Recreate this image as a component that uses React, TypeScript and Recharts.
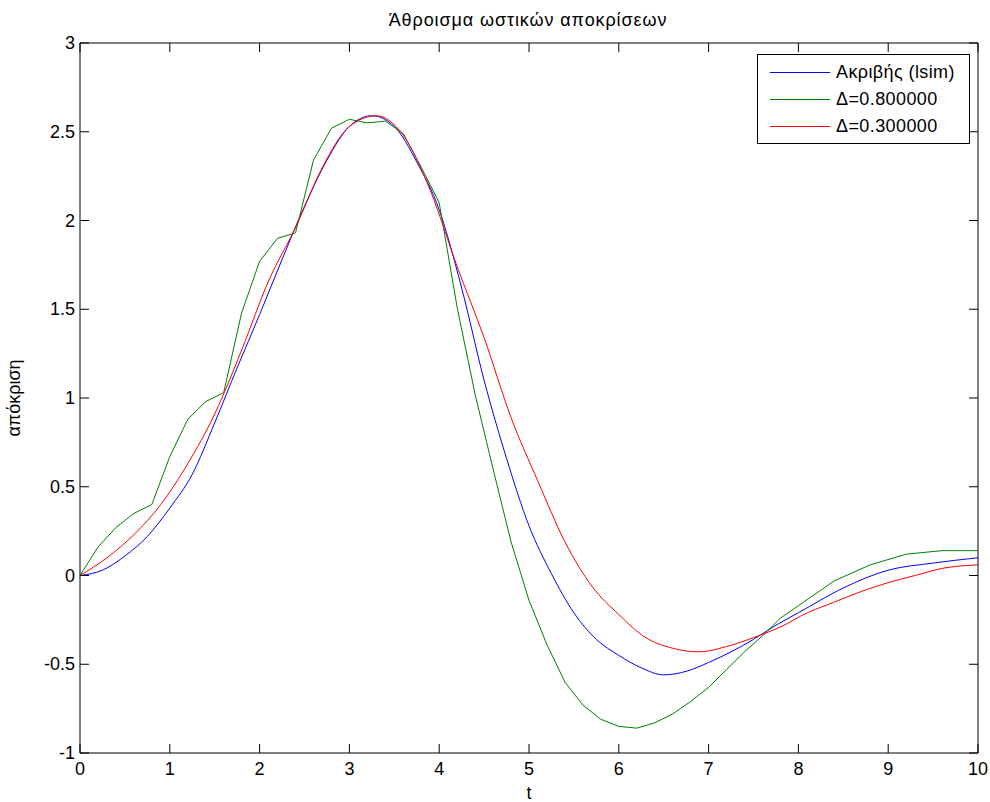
import React from 'react';
import { LineChart, Line, XAxis, YAxis, ReferenceLine } from 'recharts';

// exact response (lsim)
const exactT = [0, 0.25, 0.5, 0.75, 1.0, 1.25, 1.5, 1.75, 2.0, 2.25, 2.5, 2.75, 3.0, 3.25, 3.5, 3.75, 4.0, 4.25, 4.5, 4.75, 5.0, 5.25, 5.5, 5.75, 6.0, 6.25, 6.5, 6.75, 7.0, 7.25, 7.5, 7.75, 8.0, 8.5, 9.0, 9.5, 10];
const exactV = [0, 0.03, 0.11, 0.22, 0.38, 0.57, 0.86, 1.17, 1.47, 1.78, 2.08, 2.34, 2.53, 2.59, 2.53, 2.33, 2.06, 1.62, 1.10, 0.66, 0.28, 0.01, -0.21, -0.36, -0.45, -0.52, -0.56, -0.54, -0.49, -0.43, -0.36, -0.28, -0.21, -0.07, 0.03, 0.07, 0.10];

// delta = 0.8
const d08T = [0, 0.2, 0.4, 0.6, 0.8, 1.0, 1.2, 1.4, 1.6, 1.8, 2.0, 2.2, 2.4, 2.6, 2.8, 3.0, 3.2, 3.4, 3.6, 3.8, 4.0, 4.2, 4.4, 4.6, 4.8, 5.0, 5.2, 5.4, 5.6, 5.8, 6.0, 6.2, 6.4, 6.6, 6.8, 7.0, 7.2, 7.4, 7.6, 7.8, 8.0, 8.4, 8.8, 9.2, 9.6, 10];
const d08V = [0, 0.16, 0.27, 0.35, 0.40, 0.67, 0.88, 0.98, 1.03, 1.48, 1.77, 1.90, 1.93, 2.34, 2.52, 2.57, 2.55, 2.56, 2.49, 2.30, 2.10, 1.51, 1.02, 0.60, 0.19, -0.14, -0.39, -0.60, -0.73, -0.81, -0.85, -0.86, -0.83, -0.78, -0.71, -0.63, -0.53, -0.43, -0.34, -0.24, -0.17, -0.03, 0.06, 0.12, 0.14, 0.14];

// delta = 0.3
const d03T = [0, 0.3, 0.6, 0.9, 1.2, 1.5, 1.8, 2.1, 2.4, 2.7, 3.0, 3.3, 3.6, 3.9, 4.2, 4.5, 4.8, 5.1, 5.4, 5.7, 6.0, 6.3, 6.6, 6.9, 7.2, 7.5, 7.8, 8.1, 8.4, 8.7, 9.0, 9.3, 9.6, 10];
const d03V = [0, 0.10, 0.23, 0.40, 0.63, 0.91, 1.27, 1.66, 1.96, 2.30, 2.53, 2.59, 2.48, 2.17, 1.74, 1.34, 0.89, 0.53, 0.19, -0.06, -0.22, -0.35, -0.41, -0.43, -0.40, -0.35, -0.29, -0.21, -0.15, -0.09, -0.04, 0.00, 0.04, 0.06];

const xTicks = [0, 1, 2, 3, 4, 5, 6, 7, 8, 9, 10];
const yTicks = [-1, -0.5, 0, 0.5, 1, 1.5, 2, 2.5, 3];

const seriesNames = ['Ακριβής (lsim)', 'Δ=0.800000', 'Δ=0.300000'];
const seriesColors = ['#0000ff', '#008000', '#ff0000'];
const seriesCurve = ['monotone', 'linear', 'monotone'];

const toRows = (t: number[], v: number[]) => t.map((x, i) => ({ t: x, v: v[i] }));

const FONT = '"Liberation Sans", Arial, sans-serif';
const PLOT_W = 898;
const PLOT_H = 710;
const TICK = 9;

const BottomTick = (props: any) => {
  const { x, y, payload } = props;
  return (
    <g>
      <line x1={x} x2={x} y1={y} y2={y - TICK} stroke="#000" />
      <line x1={x} x2={x} y1={y - PLOT_H} y2={y - PLOT_H + TICK} stroke="#000" />
      <text x={x} y={y + 22} textAnchor="middle" fontSize={18} fontFamily={FONT} fill="#000">
        {payload.value}
      </text>
    </g>
  );
};

const LeftTick = (props: any) => {
  const { x, y, payload } = props;
  return (
    <g>
      <line x1={x} x2={x + TICK} y1={y} y2={y} stroke="#000" />
      <line x1={x + PLOT_W} x2={x + PLOT_W - TICK} y1={y} y2={y} stroke="#000" />
      <text x={x - 5} y={y + 6} textAnchor="end" fontSize={18} fontFamily={FONT} fill="#000">
        {payload.value}
      </text>
    </g>
  );
};

const LegendBox = () => (
  <div
    style={{
      position: 'absolute',
      left: 757,
      top: 54,
      width: 213,
      height: 90,
      border: '1px solid #000',
      background: '#fff',
      fontFamily: FONT,
      fontSize: 18,
      letterSpacing: 0.4,
      boxSizing: 'border-box',
    }}
  >
    {seriesNames.map((name, i) => (
      <div key={name} style={{ display: 'flex', alignItems: 'center', height: 27, marginTop: i === 0 ? 4 : 0 }}>
        <div style={{ width: 60, height: 1, background: seriesColors[i], marginLeft: 12, marginRight: 6 }} />
        <span>{name}</span>
      </div>
    ))}
  </div>
);

export default function App() {
  const series = [toRows(exactT, exactV), toRows(d08T, d08V), toRows(d03T, d03V)];
  return (
    <div style={{ position: 'absolute', left: 0, top: 0, width: 990, height: 802, background: '#fff' }}>
      <LineChart width={990} height={802} margin={{ top: 43, right: 12, bottom: 0, left: 0 }}>
        <XAxis
          dataKey="t"
          type="number"
          domain={[0, 10]}
          ticks={xTicks}
          interval={0}
          tickSize={0}
          tickMargin={0}
          height={49}
          tick={<BottomTick />}
          axisLine={{ stroke: '#000' }}
          allowDuplicatedCategory={false}
          label={{ value: 't', position: 'insideBottom', offset: 3, fontSize: 18, fontFamily: FONT, fill: '#000' }}
        />
        <YAxis
          type="number"
          domain={[-1, 3]}
          ticks={yTicks}
          interval={0}
          tickSize={0}
          tickMargin={0}
          width={80}
          tick={<LeftTick />}
          axisLine={{ stroke: '#000' }}
          label={{ value: 'απόκριση', angle: -90, position: 'insideLeft', offset: 14, fontSize: 18, fontFamily: FONT, fill: '#000', style: { textAnchor: 'middle' } }}
        />
        <ReferenceLine y={3} stroke="#000" ifOverflow="extendDomain" />
        <ReferenceLine x={10} stroke="#000" ifOverflow="extendDomain" />
        {series.map((rows, i) => (
          <Line
            key={seriesNames[i]}
            data={rows}
            dataKey="v"
            name={seriesNames[i]}
            type={seriesCurve[i] as any}
            stroke={seriesColors[i]}
            strokeWidth={1}
            dot={false}
            activeDot={false}
            isAnimationActive={false}
          />
        ))}
        <text x={528} y={26} textAnchor="middle" fontSize={18} letterSpacing={0.9} fontFamily={FONT} fill="#000">
          Άθροισμα ωστικών αποκρίσεων
        </text>
      </LineChart>
      <LegendBox />
    </div>
  );
}
